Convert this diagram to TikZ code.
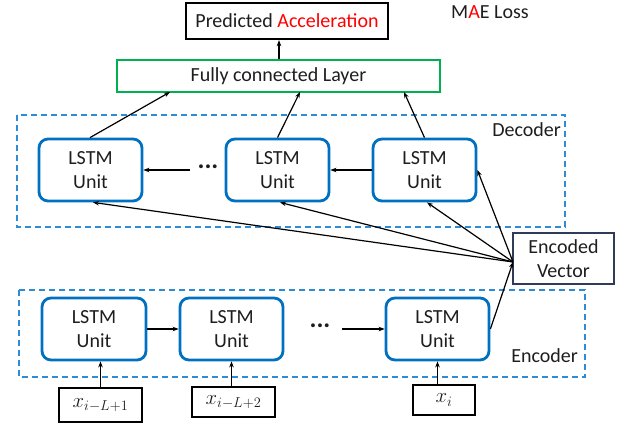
\documentclass[tikz,border=0pt]{standalone}
\usepackage{fontspec}
\setmainfont{Carlito}
\usetikzlibrary{arrows.meta,calc}
\definecolor{lstmblue}{RGB}{0,112,192}
\definecolor{dashblue}{RGB}{46,140,214}
\definecolor{fcgreen}{RGB}{0,176,80}
\definecolor{txtgray}{RGB}{30,30,30}
\definecolor{evnavy}{RGB}{47,59,89}
\begin{document}
\begin{tikzpicture}[x=1pt,y=-1pt,
  every node/.style={font=\fontsize{20}{24}\selectfont, text=txtgray, inner sep=0pt},
  lstm/.style={draw=lstmblue, line width=2.8pt, rounded corners=9pt, minimum width=103pt, minimum height=62pt, align=center},
  frame/.style={draw=dashblue, line width=1.5pt, dash pattern=on 6pt off 4pt},
  inbox/.style={draw=black, line width=2.8pt, minimum height=30pt, font=\fontsize{22}{24}\selectfont},
  arr/.style={-{Stealth[length=6pt,width=4.5pt]}, line width=1.2pt, black},
  dotsty/.style={font=\fontsize{26}{24}\selectfont\bfseries, text=txtgray}
]
\useasboundingbox (0,0) rectangle (629,423);
\fill[white] (0,0) rectangle (629,423);

% frames
\draw[frame] (17,115) rectangle (565,227);
\draw[frame] (19,290) rectangle (585,377);
\node[anchor=east] (declab) at (561,130) {Decoder};
\node[anchor=east] (enclab) at (578,356) {Encoder};

% top
\node[draw=black, line width=2.3pt, minimum width=202pt, minimum height=36pt] (pred) at (287,21) {Predicted \textcolor{red}{Acceleration}};
\node (mae) at (490,12) {M\textcolor{red}{A}E Loss};
\node[draw=fcgreen, line width=2.6pt, minimum width=323pt, minimum height=32pt] (fc) at (278.5,76) {Fully connected Layer};

% decoder
\node[lstm] (d1) at (90.5,170) {LSTM\\Unit};
\node[lstm] (d2) at (277.5,170) {LSTM\\Unit};
\node[lstm] (d3) at (424.5,170) {LSTM\\Unit};
\node[dotsty] (ddots) at (208,167) {...};
\coordinate (ddl) at (190,170);

% encoder
\node[lstm, minimum width=104pt] (e1) at (94,329) {LSTM\\Unit};
\node[lstm] (e2) at (231.5,329) {LSTM\\Unit};
\node[lstm] (e3) at (437.5,329) {LSTM\\Unit};
\node[dotsty] (edots) at (320,326) {...};
\coordinate (edr) at (342,329);

% encoded vector
\node[draw=evnavy, line width=1.2pt, minimum width=101pt, minimum height=51pt, align=center] (ev) at (563.5,258.5) {Encoded\\Vector};
\coordinate (evp) at (513,262);

% inputs
\node[inbox, minimum width=83pt, minimum height=34pt] (x1) at (100.5,405) {$x_{i-L+1}$};
\node[inbox, minimum width=83pt] (x2) at (233.5,402) {$x_{i-L+2}$};
\node[inbox, minimum width=62pt] (x3) at (444,400) {$x_{i}$};

% arrows
\draw[arr] (fc.north -| 279,0) -- (pred.south -| 279,0);
\draw[arr] ([xshift=-0.5pt]d1.north) -- (170,92);
\draw[arr] (d2.north) -- (300,92);
\draw[arr] (d3.north) -- (404,92);
\draw[arr] (ddl) -- (d1.east);
\draw[arr] (d3.west) -- (d2.east);
\draw[arr] (e1.east) -- (e2.west);
\draw[arr] (edr) -- (e3.west);
\draw[arr] (e3.east) -- (evp);
\draw[arr] (evp) -- ([xshift=2.5pt]d1.south);
\draw[arr] (evp) -- ([xshift=2.5pt]d2.south);
\draw[arr] (evp) -- ([xshift=2.5pt]d3.south);
\draw[arr] (evp) -- (d3.east);
\draw[arr] (x1.north) -- (x1.north |- e1.south);
\draw[arr] (x2.north -| e2.south) -- (e2.south);
\draw[arr] (x3.north -| e3.south) -- (e3.south);
\end{tikzpicture}
\end{document}
